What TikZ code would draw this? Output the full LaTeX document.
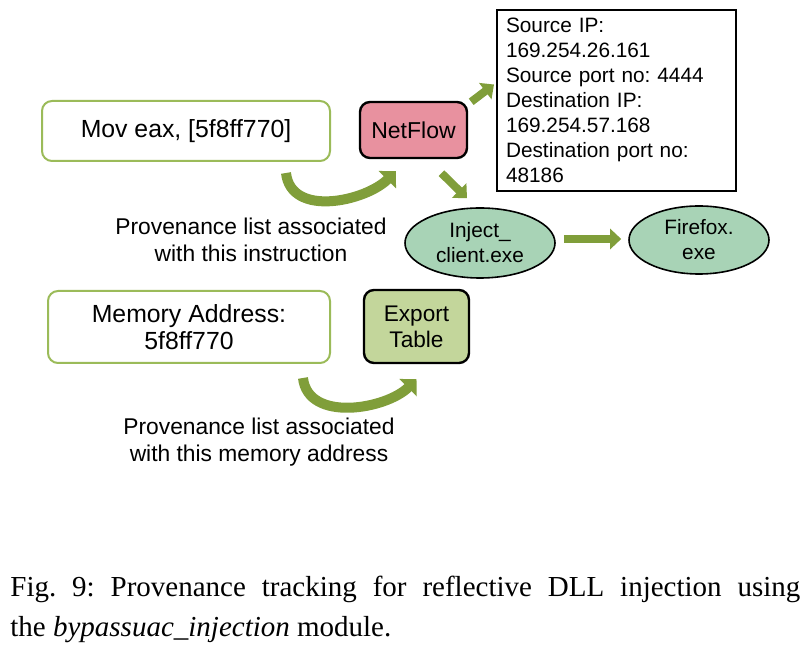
\documentclass[tikz,border=0pt]{standalone}
\usepackage{fontspec}
\setmainfont{Liberation Serif}
\setsansfont{Liberation Sans}
\usetikzlibrary{shapes.geometric,arrows.meta}
\definecolor{boxgreen}{RGB}{155,187,89}
\definecolor{arrowgreen}{RGB}{128,158,58}
\definecolor{flowpink}{RGB}{232,145,159}
\definecolor{tablegreen}{RGB}{195,214,155}
\definecolor{procgreen}{RGB}{168,211,182}
\frenchspacing

\begin{document}
\begin{tikzpicture}[x=0.5pt, y=-0.5pt, font=\sffamily,
    codebox/.style={draw=boxgreen, line width=1pt, rounded corners=5pt, fill=white, align=center, inner sep=0pt},
    srcbox/.style={draw=black, line width=1.2pt, rounded corners=5pt, align=center, inner sep=0pt},
    infobox/.style={draw=black, line width=1pt, align=left, inner sep=0pt},
    procnode/.style={ellipse, draw=black, line width=0.8pt, fill=procgreen, align=center, inner sep=0pt},
    note/.style={align=center, inner sep=0pt, font=\sffamily\fontsize{11.4}{13.5}\selectfont},
    blockarrow/.style={draw=arrowgreen, line width=4pt, -{Triangle[length=5.5pt, width=10pt]}},
    curvearrow/.style={draw=arrowgreen, line width=5pt, -{Triangle[length=6pt, width=12pt]}}]
    \useasboundingbox (0,0) rectangle (810,651);

    % Instruction and its provenance
    \node[codebox, minimum width=144pt, minimum height=30pt, font=\sffamily\fontsize{12.4}{15}\selectfont] (mov) at (186,131) {Mov eax, [5f8ff770]};
    \node[srcbox, fill=flowpink, minimum width=53.5pt, minimum height=28pt, font=\sffamily\fontsize{11.5}{14}\selectfont] (netflow) at (413.5,130) {NetFlow};
    \node[note] (instnote) at (251,240) {Provenance list associated\\with this instruction};
    \draw[curvearrow] ([xshift=-22.5pt, yshift=-5.5pt]mov.south east) .. controls +(5,45) and +(-30,30) .. ([xshift=18.5pt, yshift=-6pt]netflow.south west);

    % NetFlow details
    \node[infobox, minimum width=119.5pt, minimum height=90.5pt, text width=110.5pt, font=\sffamily\fontsize{10.4}{12.5}\selectfont] (info) at (616.5,100.5) {Source IP:\\169.254.26.161\\Source port no: 4444\\Destination IP:\\169.254.57.168\\Destination port no:\\48186};
    \draw[blockarrow] ([xshift=1.5pt, yshift=-0.5pt]netflow.north east) -- ([xshift=-1pt, yshift=8pt]info.west);

    % Processes
    \node[procnode, minimum width=75pt, minimum height=35pt, font=\sffamily\fontsize{10.4}{12.5}\selectfont] (inject) at (480,243) {Inject\_\\client.exe};
    \node[procnode, minimum width=70pt, minimum height=34pt, font=\sffamily\fontsize{10.4}{12.5}\selectfont] (firefox) at (699,240) {Firefox.\\exe};
    \draw[blockarrow] ([xshift=14pt, yshift=-7pt]netflow.south) -- ([xshift=-6.5pt, yshift=4.5pt]inject.north);
    \draw[blockarrow] ([xshift=4pt, yshift=2pt]inject.east) -- ([xshift=-3.5pt, yshift=0.5pt]firefox.west);

    % Memory address and its provenance
    \node[codebox, minimum width=141pt, minimum height=36pt, font=\sffamily\fontsize{12.4}{13.5}\selectfont] (memaddr) at (189,327) {Memory Address:\\5f8ff770};
    \node[srcbox, fill=tablegreen, minimum width=52.5pt, minimum height=36.5pt, font=\sffamily\fontsize{11.3}{13}\selectfont] (export) at (416.5,326.5) {Export\\Table};
    \node[note] (memnote) at (259,442) {Provenance list associated\\with this memory address};
    \draw[curvearrow] ([xshift=-14pt, yshift=-7pt]memaddr.south east) .. controls +(5,45) and +(-30,30) .. ([xshift=0pt, yshift=-7.5pt]export.south);

    % Caption
    \node[anchor=base west, text width=395pt, align=justify, inner sep=0pt, font=\rmfamily\fontsize{14.5}{20}\selectfont] (caption) at (10,597) {Fig. 9: Provenance tracking for reflective DLL injection using\linebreak the \textit{bypassuac\_injection} module.};
\end{tikzpicture}
\end{document}
